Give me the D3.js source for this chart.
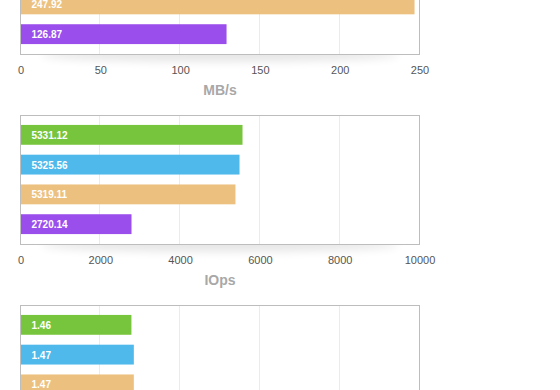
<!DOCTYPE html>
<html>
<head>
<meta charset="utf-8">
<script src="https://cdn.jsdelivr.net/npm/d3@7"></script>
<style>
  html, body { margin: 0; padding: 0; background: #fff; }
  svg { display: block; }
</style>
</head>
<body>
<script>
// ---- data ----
const categories = ["Run 1", "Run 2", "Run 3", "Run 4"];
const barColors = ["#77c53c", "#4eb9ea", "#ecc17f", "#9a4eec"];

const throughputValues = [248.6, 248.3, 246.9, 129.1];
const throughputLabels = ["248.61", "248.30", "247.92", "126.87"];
const throughputTicks = [0, 50, 100, 150, 200, 250];

const iopsValues = [5564, 5489, 5388, 2782];
const iopsLabels = ["5331.12", "5325.56", "5319.11", "2720.14"];
const iopsTicks = [0, 2000, 4000, 6000, 8000, 10000];

const latencyValues = [1.39, 1.42, 1.42, 2.90];
const latencyLabels = ["1.46", "1.47", "1.47", "2.93"];
const latencyTicks = [0, 1, 2, 3, 4, 5];

const panels = [
  { title: "MB/s", values: throughputValues, labels: throughputLabels, ticks: throughputTicks },
  { title: "IOps", values: iopsValues, labels: iopsLabels, ticks: iopsTicks },
  { title: "ms", values: latencyValues, labels: latencyLabels, ticks: latencyTicks }
];

// ---- layout ----
const W = 560, H = 390;
const frameLeft = 20.5, frameRight = 419.5;
const frameH = 129;
const firstTop = -74.5, panelStep = 190;

const svg = d3.select("body").append("svg").attr("width", W).attr("height", H);

const defs = svg.append("defs");
defs.append("filter").attr("id", "soft").attr("x", "-20%").attr("y", "-200%").attr("width", "140%").attr("height", "500%")
  .append("feGaussianBlur").attr("stdDeviation", 5);

panels.forEach((p, i) => {
  const top = firstTop + i * panelStep;
  const bottom = top + frameH;
  const g = svg.append("g");

  const x = d3.scaleLinear()
    .domain([p.ticks[0], p.ticks[p.ticks.length - 1]])
    .range([frameLeft, frameRight]);
  const y = d3.scaleBand()
    .domain(categories)
    .range([top, bottom])
    .paddingInner(1 / 3)
    .paddingOuter(1 / 3);

  // shadow beneath the frame
  g.append("ellipse")
    .attr("cx", (frameLeft + frameRight) / 2)
    .attr("cy", bottom)
    .attr("rx", (frameRight - frameLeft) / 2 - 20)
    .attr("ry", 7)
    .attr("fill", "#000")
    .attr("opacity", 0.10)
    .attr("filter", "url(#soft)");

  // frame background
  g.append("rect")
    .attr("x", frameLeft).attr("y", top)
    .attr("width", frameRight - frameLeft).attr("height", frameH)
    .attr("fill", "#fff");

  // grid lines
  g.selectAll("line.grid")
    .data(p.ticks.slice(1, -1))
    .join("line")
    .attr("class", "grid")
    .attr("x1", d => Math.round(x(d)) - 0.5).attr("x2", d => Math.round(x(d)) - 0.5)
    .attr("y1", top).attr("y2", bottom)
    .attr("stroke", "#ebebeb").attr("stroke-width", 1);

  // bars
  g.selectAll("rect.bar")
    .data(p.values)
    .join("rect")
    .attr("class", "bar")
    .attr("x", x(0) )
    .attr("y", (d, j) => y(categories[j]) - 0.5)
    .attr("width", d => x(d) - x(0))
    .attr("height", y.bandwidth())
    .attr("fill", (d, j) => barColors[j]);

  // bar labels
  g.selectAll("text.lbl")
    .data(p.labels)
    .join("text")
    .attr("class", "lbl")
    .attr("x", x(0) + 11)
    .attr("y", (d, j) => y(categories[j]) + y.bandwidth() / 2)
    .attr("dy", "0.35em")
    .attr("fill", "#fff")
    .attr("font-family", "Liberation Sans, Arial, sans-serif")
    .attr("font-size", 10)
    .attr("font-weight", "bold")
    .text(d => d);

  // frame border
  g.append("rect")
    .attr("x", frameLeft).attr("y", top)
    .attr("width", frameRight - frameLeft).attr("height", frameH)
    .attr("fill", "none")
    .attr("stroke", "#bdbdbd").attr("stroke-width", 1);

  // axis
  const axis = d3.axisBottom(x).tickValues(p.ticks).tickSize(0).tickPadding(0).tickFormat(d3.format("d"));
  const ax = g.append("g").attr("transform", `translate(0,${bottom})`).call(axis);
  ax.select(".domain").remove();
  ax.selectAll("text")
    .attr("y", 16).attr("dy", "0.35em")
    .attr("fill", "#555")
    .attr("font-family", "Liberation Sans, Arial, sans-serif")
    .attr("font-size", 11);

  // axis title
  g.append("text")
    .attr("x", (frameLeft + frameRight) / 2)
    .attr("y", bottom + 36)
    .attr("dy", "0.35em")
    .attr("text-anchor", "middle")
    .attr("fill", "#a8a8a8")
    .attr("font-family", "Liberation Sans, Arial, sans-serif")
    .attr("font-size", 14)
    .attr("font-weight", "bold")
    .text(p.title);
});
</script>
</body>
</html>
